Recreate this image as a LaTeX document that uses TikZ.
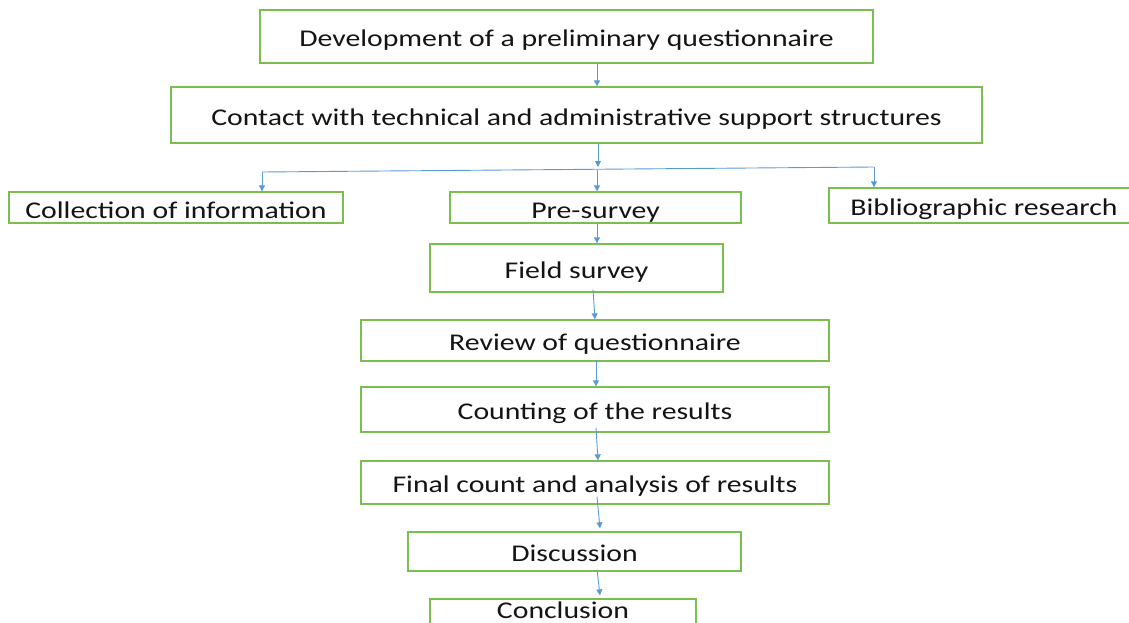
\documentclass[tikz,border=0pt]{standalone}
\usepackage{fontspec}
\setmainfont[FakeStretch=1.24]{Carlito}
\usetikzlibrary{arrows.meta}
\definecolor{boxgreen}{RGB}{122,190,80}
\definecolor{arrblue}{RGB}{91,155,213}
\tikzset{
  stepbox/.style={draw=boxgreen, line width=1.3pt, fill=white, rectangle, inner sep=0pt,
    font=\fontsize{24}{28}\selectfont, text=black!92, text height=20pt, text depth=0pt},
  arr/.style={draw=arrblue, line width=0.9pt, -{Triangle[width=6pt,length=6pt]}},
  plainline/.style={draw=arrblue, line width=0.9pt},
}
\begin{document}
\begin{tikzpicture}[x=1pt,y=-1pt]
\clip (0,0) rectangle (1129,623);
\useasboundingbox (0,0) rectangle (1129,623);
\node[stepbox, minimum width=613pt, minimum height=53pt] (n1) at (566.5,36.5) {Development of a preliminary questionnaire};
\node[stepbox, minimum width=811pt, minimum height=56pt] (n2) at (576.5,115) {Contact with technical and administrative support structures};
\node[stepbox, minimum width=334pt, minimum height=31pt, text height=22pt] (n3) at (176,207.5) {Collection of information};
\node[stepbox, minimum width=291pt, minimum height=31pt, text height=22pt] (n4) at (595.5,207.5) {Pre-survey};
\node[stepbox, minimum width=302pt, minimum height=35pt] (n5) at (980,205.5) {\hspace*{8pt}Bibliographic research};
\node[stepbox, minimum width=293pt, minimum height=48pt] (n6) at (576.5,268) {Field survey};
\node[stepbox, minimum width=468pt, minimum height=41pt] (n7) at (595,340.5) {Review of questionnaire};
\node[stepbox, minimum width=468pt, minimum height=45pt] (n8) at (595,409.5) {Counting of the results};
\node[stepbox, minimum width=468pt, minimum height=43pt] (n9) at (595,482.5) {Final count and analysis of results};
\node[stepbox, minimum width=333pt, minimum height=39pt] (n10) at (574.5,551.5) {Discussion};
\node[stepbox, minimum width=266pt, minimum height=26pt, text height=13pt] (n11) at (563,612) {Conclusion};

\coordinate (c1) at (597,0);
\coordinate (c2) at (598,0);
\coordinate (j) at (598,167);
\coordinate (jl) at (262,172);
\coordinate (jm) at (597,169.5);
\coordinate (jr) at (874,167);

\draw[arr] (n1.south -| c1) -- (n2.north -| c1);
\draw[arr] (n2.south -| c2) -- (j);
\draw[plainline] (jl) -- (jr);
\draw[arr] (jl) -- (n3.north -| jl);
\draw[arr] (jm) -- (n4.north -| jm);
\draw[arr] (jr) -- (n5.north -| jr);
\draw[arr] ([xshift=1.5pt]n4.south) -- ([xshift=20.5pt]n6.north);
\draw[arr] ([xshift=16.5pt,yshift=3pt]n6.south) -- ([xshift=0pt]n7.north);
\draw[arr] ([xshift=1pt,yshift=2pt]n7.south) -- ([xshift=1pt]n8.north);
\draw[arr] ([xshift=1pt,yshift=5pt]n8.south) -- ([xshift=3pt]n9.north);
\draw[arr] ([xshift=2pt,yshift=8pt]n9.south) -- ([xshift=25.5pt,yshift=3pt]n10.north);
\draw[arr] ([xshift=22.5pt,yshift=2pt]n10.south) -- ([xshift=37pt,yshift=3pt]n11.north);
\end{tikzpicture}
\end{document}
